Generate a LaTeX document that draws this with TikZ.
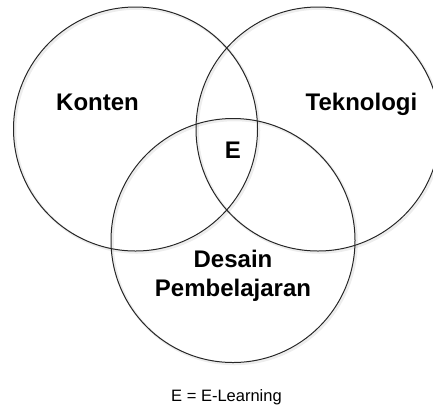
\documentclass[tikz,border=0pt]{standalone}
\usepackage{fontspec}
\setmainfont{Liberation Sans}
\tikzset{
	ring/.style = {line width = 1pt, draw = black!85},
	ringshadow/.style = {line width = 2.5pt, draw = black, opacity = 0.07},
	settext/.style = {font = \bfseries\fontsize{24}{30}\selectfont, inner sep = 0pt, anchor = base},
	notetext/.style = {font = \fontsize{16.5}{20}\selectfont, inner sep = 0pt, anchor = base}
}
\begin{document}
\begin{tikzpicture}[x = 1pt, y = -1pt]
	\useasboundingbox (0, 0) rectangle (433, 408);
	\clip (0, 0) rectangle (433, 408);

	\coordinate (K) at (135.5, 129);
	\coordinate (T) at (318, 129);
	\coordinate (D) at (233, 240.5);

	\draw [ringshadow] ([shift = {(1.5, 1.5)}]K) circle [radius = 122];
	\draw [ringshadow] ([shift = {(1.5, 1.5)}]T) circle [radius = 122];
	\draw [ringshadow] ([shift = {(1.5, 1.5)}]D) circle [radius = 122];

	\draw [ring] (K) circle [radius = 122];
	\draw [ring] (T) circle [radius = 122];
	\draw [ring] (D) circle [radius = 122];

	\node [settext] (konten) at (97.5, 110) {Konten};
	\node [settext] (tekno) at (361.5, 110) {Teknologi};
	\node [settext] (e) at (233, 158) {E};
	\node [settext] (desain) at (233, 267) {Desain};
	\node [settext] (pembel) at (233, 296) {Pembelajaran};

	\node [notetext] (note) at (226.5, 401) {E = E-Learning};
\end{tikzpicture}
\end{document}
